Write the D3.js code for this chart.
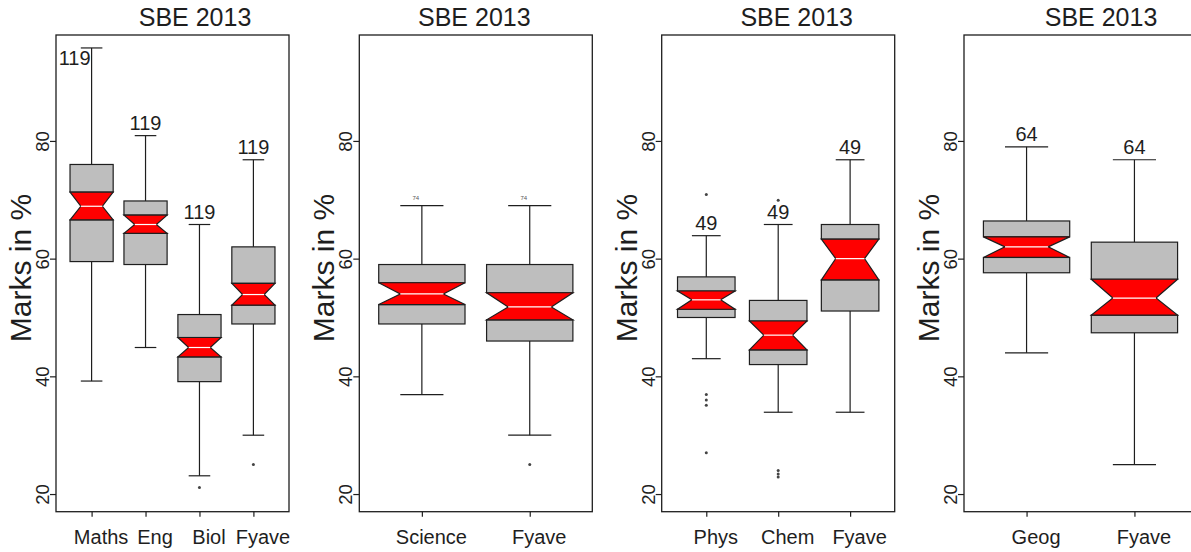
<!DOCTYPE html>
<html>
<head>
<meta charset="utf-8">
<script src="https://cdn.jsdelivr.net/npm/d3@7"></script>
<style>
  html, body { margin: 0; padding: 0; background: #fff; }
  svg { display: block; font-family: "Liberation Sans", Arial, Helvetica, sans-serif; }
</style>
</head>
<body>
<svg id="chart" width="1191" height="552"></svg>
<script>
// ---- Data: notched box plot statistics (marks in %) ----
const titles = ["SBE 2013", "SBE 2013", "SBE 2013", "SBE 2013"];
const yTicks = [20, 40, 60, 80];
const yLabel = "Marks in %";

// Panel A: core subjects
const catsA        = ["Maths", "Eng", "Biol", "Fyave"];
const whiskerHighA = [95.8, 80.9, 65.8, 76.8];
const q3A          = [76.0, 69.8, 50.5, 62.0];
const notchHighA   = [71.3, 67.4, 46.6, 55.8];
const medianA      = [68.9, 65.8, 44.9, 53.9];
const notchLowA    = [66.6, 64.3, 43.3, 52.1];
const q1A          = [59.5, 59.0, 39.1, 48.9];
const whiskerLowA  = [39.2, 44.9, 23.1, 30.0];
const outliersA    = [[], [], [21.1], [25.0]];
const countsA      = [119, 119, 119, 119];

// Panel B: combined science
const catsB        = ["Science", "Fyave"];
const whiskerHighB = [69.0, 69.0];
const q3B          = [59.0, 59.0];
const notchHighB   = [55.9, 54.2];
const medianB      = [54.0, 51.8];
const notchLowB    = [52.2, 49.6];
const q1B          = [48.9, 46.0];
const whiskerLowB  = [36.9, 30.0];
const outliersB    = [[], [25.0]];
const countsB      = [74, 74];

// Panel C: pure sciences
const catsC        = ["Phys", "Chem", "Fyave"];
const whiskerHighC = [63.9, 65.8, 76.8];
const q3C          = [56.9, 52.9, 65.8];
const notchHighC   = [54.5, 49.4, 63.3];
const medianC      = [53.0, 47.0, 60.0];
const notchLowC    = [51.4, 44.5, 56.4];
const q1C          = [50.0, 42.0, 51.1];
const whiskerLowC  = [43.0, 33.9, 33.9];
const outliersC    = [[70.9, 36.9, 36.0, 35.1, 27.0], [69.9, 24.0, 23.4, 22.9], []];
const countsC      = [49, 49, 49];

// Panel D: geography
const catsD        = ["Geog", "Fyave"];
const whiskerHighD = [79.0, 76.8];
const q3D          = [66.4, 62.8];
const notchHighD   = [63.7, 56.5];
const medianD      = [62.0, 53.3];
const notchLowD    = [60.2, 50.4];
const q1D          = [57.6, 47.4];
const whiskerLowD  = [44.0, 25.0];
const outliersD    = [[], []];
const countsD      = [64, 64];

function buildPanel(cats, wh, q3, nh, med, nl, q1, wl, outs, counts) {
  return cats.map((c, i) => ({
    cat: c, wh: wh[i], q3: q3[i], nh: nh[i], med: med[i], nl: nl[i],
    q1: q1[i], wl: wl[i], outs: outs[i], n: counts[i]
  }));
}

const panels = [
  buildPanel(catsA, whiskerHighA, q3A, notchHighA, medianA, notchLowA, q1A, whiskerLowA, outliersA, countsA),
  buildPanel(catsB, whiskerHighB, q3B, notchHighB, medianB, notchLowB, q1B, whiskerLowB, outliersB, countsB),
  buildPanel(catsC, whiskerHighC, q3C, notchHighC, medianC, notchLowC, q1C, whiskerLowC, outliersC, countsC),
  buildPanel(catsD, whiskerHighD, q3D, notchHighD, medianD, notchLowD, q1D, whiskerLowD, outliersD, countsD)
];

// ---- Layout ----
const plotTop = 35, plotBottom = 511.7, plotWidth = 233;
const plotLefts = [56, 359.3, 661.7, 964];
const pointPadding = [0.66, 0.58, 0.62, 0.58];
const titleCenters = [139, 115, 135, 137];
const countFont = [20, 6, 20, 20];
const countDx = [0, -6, 0, 0];
// where the n-label sits relative to the upper whisker
const countPlacement = [["inside", "above", "above", "above"], ["above", "above"],
                        ["above", "above", "above"], ["above", "above"]];

const ink = "#1e1e1e";
const boxGray = "#bebebe";
const notchRed = "#ff0000";

const svg = d3.select("#chart");
const y = d3.scaleLinear().domain([17, 98]).range([plotBottom, plotTop]);

panels.forEach((data, p) => {
  const g = svg.append("g").attr("transform", `translate(${plotLefts[p]},0)`);
  const x = d3.scalePoint().domain(data.map(d => d.cat))
    .range([0, plotWidth]).padding(pointPadding[p]);
  const step = x.step();
  const half = step * 0.4;     // half box width
  const waist = half / 2;      // half width at the median notch
  const capHalf = half / 2;

  const boxes = g.selectAll("g.box").data(data).join("g").attr("class", "box");

  // whiskers
  boxes.append("line")
    .attr("x1", d => x(d.cat)).attr("x2", d => x(d.cat))
    .attr("y1", d => y(d.q3)).attr("y2", d => y(d.wh))
    .attr("stroke", ink).attr("stroke-width", 1.2);
  boxes.append("line")
    .attr("x1", d => x(d.cat)).attr("x2", d => x(d.cat))
    .attr("y1", d => y(d.q1)).attr("y2", d => y(d.wl))
    .attr("stroke", ink).attr("stroke-width", 1.2);
  // staples
  boxes.append("line")
    .attr("x1", d => x(d.cat) - capHalf).attr("x2", d => x(d.cat) + capHalf)
    .attr("y1", d => y(d.wh)).attr("y2", d => y(d.wh))
    .attr("stroke", ink).attr("stroke-width", 1.2);
  boxes.append("line")
    .attr("x1", d => x(d.cat) - capHalf).attr("x2", d => x(d.cat) + capHalf)
    .attr("y1", d => y(d.wl)).attr("y2", d => y(d.wl))
    .attr("stroke", ink).attr("stroke-width", 1.2);

  // upper and lower grey parts of the box
  boxes.append("rect")
    .attr("x", d => x(d.cat) - half).attr("width", half * 2)
    .attr("y", d => y(d.q3)).attr("height", d => y(d.nh) - y(d.q3))
    .attr("fill", boxGray).attr("stroke", ink).attr("stroke-width", 1.2);
  boxes.append("rect")
    .attr("x", d => x(d.cat) - half).attr("width", half * 2)
    .attr("y", d => y(d.nl)).attr("height", d => y(d.q1) - y(d.nl))
    .attr("fill", boxGray).attr("stroke", ink).attr("stroke-width", 1.2);

  // red notch (confidence interval of the median)
  boxes.append("path")
    .attr("d", d => {
      const cx = x(d.cat);
      return d3.line()([
        [cx - half, y(d.nh)], [cx + half, y(d.nh)], [cx + waist, y(d.med)],
        [cx + half, y(d.nl)], [cx - half, y(d.nl)], [cx - waist, y(d.med)]
      ]) + "Z";
    })
    .attr("fill", notchRed).attr("stroke", ink).attr("stroke-width", 1.2);

  // median
  boxes.append("line")
    .attr("x1", d => x(d.cat) - waist).attr("x2", d => x(d.cat) + waist)
    .attr("y1", d => y(d.med)).attr("y2", d => y(d.med))
    .attr("stroke", "#ffffff").attr("stroke-width", 1.2);

  // outliers
  boxes.selectAll("circle")
    .data(d => d.outs.map(v => ({ cat: d.cat, v })))
    .join("circle")
    .attr("cx", d => x(d.cat)).attr("cy", d => y(d.v))
    .attr("r", 1.5).attr("fill", "#444");

  // n labels
  boxes.append("text")
    .attr("x", d => x(d.cat) + countDx[p] + (countPlacement[p][data.indexOf(d)] === "inside" ? -1 : 0))
    .attr("y", d => countPlacement[p][data.indexOf(d)] === "inside" ? y(d.wh) + 17 : y(d.wh) - 6)
    .attr("text-anchor", d => countPlacement[p][data.indexOf(d)] === "inside" ? "end" : "middle")
    .attr("font-size", countFont[p])
    .attr("fill", p === 1 ? "#555" : ink)
    .text(d => d.n);

  // frame
  g.append("rect")
    .attr("x", 0).attr("y", plotTop)
    .attr("width", plotWidth).attr("height", plotBottom - plotTop)
    .attr("fill", "none").attr("stroke", ink).attr("stroke-width", 1.3);

  // y axis
  const ya = g.append("g").call(d3.axisLeft(y).tickValues(yTicks).tickSize(6));
  ya.select(".domain").remove();
  ya.selectAll(".tick line").attr("stroke", ink).attr("stroke-width", 1.2);
  ya.selectAll(".tick text")
    .attr("x", 0).attr("dy", 0)
    .attr("transform", "translate(-7,0) rotate(-90)")
    .attr("text-anchor", "middle")
    .attr("fill", ink)
    .style("font-size", "18.5px")
    .style("font-family", "inherit");

  // x axis
  const xa = g.append("g").attr("transform", `translate(0,${plotBottom})`)
    .call(d3.axisBottom(x).tickSize(5));
  xa.select(".domain").remove();
  xa.selectAll(".tick line").attr("stroke", ink).attr("stroke-width", 1.2);
  xa.selectAll(".tick text")
    .attr("y", 32.5).attr("dy", 0).attr("dx", 9)
    .attr("fill", ink)
    .style("font-size", "20px")
    .style("font-family", "inherit");

  // y label
  g.append("text")
    .attr("transform", `translate(-25,268) rotate(-90)`)
    .attr("text-anchor", "middle")
    .attr("font-size", 30)
    .attr("fill", ink)
    .text(yLabel);

  // title
  g.append("text")
    .attr("x", titleCenters[p]).attr("y", 26)
    .attr("text-anchor", "middle")
    .attr("font-size", 25)
    .attr("fill", ink)
    .text(titles[p]);
});
</script>
</body>
</html>
